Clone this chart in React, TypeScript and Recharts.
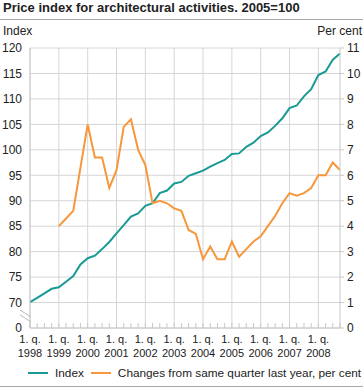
import React from 'react'
import { LineChart, Line, XAxis, YAxis, CartesianGrid, ReferenceLine } from 'recharts'

// quarterly, 1. q. 1998 - 4. q. 2008
const years = ['1998', '1999', '2000', '2001', '2002', '2003', '2004', '2005', '2006', '2007', '2008']

const indexValues = [
  70.1, 70.9, 71.8, 72.7, 73.0, 74.1, 75.2, 77.5, 78.7, 79.2, 80.5, 81.9,
  83.6, 85.2, 86.9, 87.5, 89.0, 89.5, 91.5, 92.0, 93.4, 93.7, 94.9, 95.4,
  95.9, 96.7, 97.4, 98.0, 99.2, 99.3, 100.6, 101.4, 102.7, 103.4, 104.7, 106.2,
  108.2, 108.7, 110.5, 111.9, 114.7, 115.4, 117.7, 118.9,
]

const changeValues = [
  null, null, null, null,
  4.0, 4.3, 4.6, 6.3, 8.0, 6.7, 6.7, 5.5, 6.2, 7.9, 8.2, 7.0,
  6.4, 4.9, 5.0, 4.9, 4.7, 4.6, 3.85, 3.7, 2.7, 3.2, 2.7, 2.7,
  3.4, 2.8, 3.1, 3.4, 3.6, 4.0, 4.4, 4.9, 5.3, 5.2, 5.3, 5.5,
  6.0, 6.0, 6.5, 6.2,
]

const leftTicks = [65, 70, 75, 80, 85, 90, 95, 100, 105, 110, 115, 120]
const rightTicks = [0, 1, 2, 3, 4, 5, 6, 7, 8, 9, 10, 11]

const seriesNames = ['Index', 'Changes from same quarter last year, per cent']
const colors = ['#1a9a95', '#f7963a']

const data = indexValues.map((v, i) => ({ q: i, index: v, change: changeValues[i] }))
const quarterTicks = data.map((d) => d.q)

const font = '"Liberation Sans", Arial, sans-serif'
const grid = '#d6d6d6'

const XTick = (props: any) => {
  const { x, y, payload } = props
  const q = payload.value
  return (
    <g>
      <line x1={x} y1={y} x2={x} y2={y - 5} stroke="#c8c8c8" />
      {q % 4 === 0 && (
        <g fontSize={11} fill="#222" textAnchor="middle" fontFamily={font}>
          <text x={x} y={y + 15}>1. q.</text>
          <text x={x} y={y + 29}>{years[q / 4]}</text>
        </g>
      )}
    </g>
  )
}

const LeftTick = (props: any) => {
  const { x, y, payload } = props
  const v = payload.value
  return (
    <g>
      <text x={x} y={y} dy="0.355em" textAnchor="end" fontSize={12} fill="#222" fontFamily={font}>
        {v === 65 ? '0' : v}
      </text>
      {v === 65 && (
        <g stroke="#bbb" strokeWidth={1}>
          <line x1={x - 2} y1={y - 18} x2={x + 9} y2={y - 11} />
          <line x1={x - 2} y1={y - 13} x2={x + 9} y2={y - 6} />
        </g>
      )}
    </g>
  )
}

export default function App() {
  return (
    <div style={{ position: 'absolute', left: 0, top: 0, width: 363, height: 389, fontFamily: font, color: '#222' }}>
      <div style={{ position: 'absolute', left: 3, top: 0, fontSize: 13, lineHeight: '16px', fontWeight: 'bold', whiteSpace: 'nowrap' }}>
        Price index for architectural activities. 2005=100
      </div>
      <div style={{ position: 'absolute', left: 0, top: 19, width: 363, height: 1, background: '#aaa' }} />
      <div style={{ position: 'absolute', left: 3, top: 24, fontSize: 12, lineHeight: '14px' }}>Index</div>
      <div style={{ position: 'absolute', right: 1, top: 24, fontSize: 12, lineHeight: '14px' }}>Per cent</div>

      <div style={{ position: 'absolute', left: 0, top: 0 }}>
        <LineChart width={363} height={389} data={data} margin={{ top: 48, right: 0, left: 0, bottom: 31 }}>
          <CartesianGrid yAxisId="right" vertical={false} stroke={grid} />
          {years.map((y, i) => (
            <ReferenceLine key={y} x={i * 4} yAxisId="right" stroke={grid} />
          ))}
          <XAxis
            dataKey="q"
            type="number"
            domain={[0, 43]}
            ticks={quarterTicks}
            interval={0}
            height={30}
            tickSize={0}
            tickMargin={0}
            tickLine={false}
            axisLine={{ stroke: '#c8c8c8' }}
            tick={<XTick />}
          />
          <YAxis
            yAxisId="left"
            domain={[65, 120]}
            ticks={leftTicks}
            interval={0}
            width={30}
            tickSize={0}
            tickMargin={8}
            tickLine={false}
            axisLine={{ stroke: '#c8c8c8' }}
            tick={<LeftTick />}
          />
          <YAxis
            yAxisId="right"
            orientation="right"
            domain={[0, 11]}
            ticks={rightTicks}
            interval={0}
            width={23}
            tickSize={4}
            tickMargin={3}
            tickLine={{ stroke: '#c8c8c8' }}
            axisLine={{ stroke: '#c8c8c8' }}
            tick={{ fontSize: 12, fill: '#222', fontFamily: font }}
          />
          <Line
            yAxisId="left"
            type="linear"
            dataKey="index"
            stroke={colors[0]}
            strokeWidth={2}
            dot={false}
            isAnimationActive={false}
          />
          <Line
            yAxisId="right"
            type="linear"
            dataKey="change"
            stroke={colors[1]}
            strokeWidth={2}
            dot={false}
            connectNulls={false}
            isAnimationActive={false}
          />
        </LineChart>
      </div>

      <div style={{ position: 'absolute', left: 28, top: 366, fontSize: 11.8, lineHeight: '14px', display: 'flex', alignItems: 'center', whiteSpace: 'nowrap' }}>
        {seriesNames.map((name, i) => (
          <span key={name} style={{ display: 'flex', alignItems: 'center', marginRight: 7 }}>
            <span style={{ display: 'inline-block', width: 20, height: 2, background: colors[i], marginRight: 7 }} />
            {name}
          </span>
        ))}
      </div>
      <div style={{ position: 'absolute', left: 0, top: 386, width: 363, height: 1, background: '#aaa' }} />
    </div>
  )
}
